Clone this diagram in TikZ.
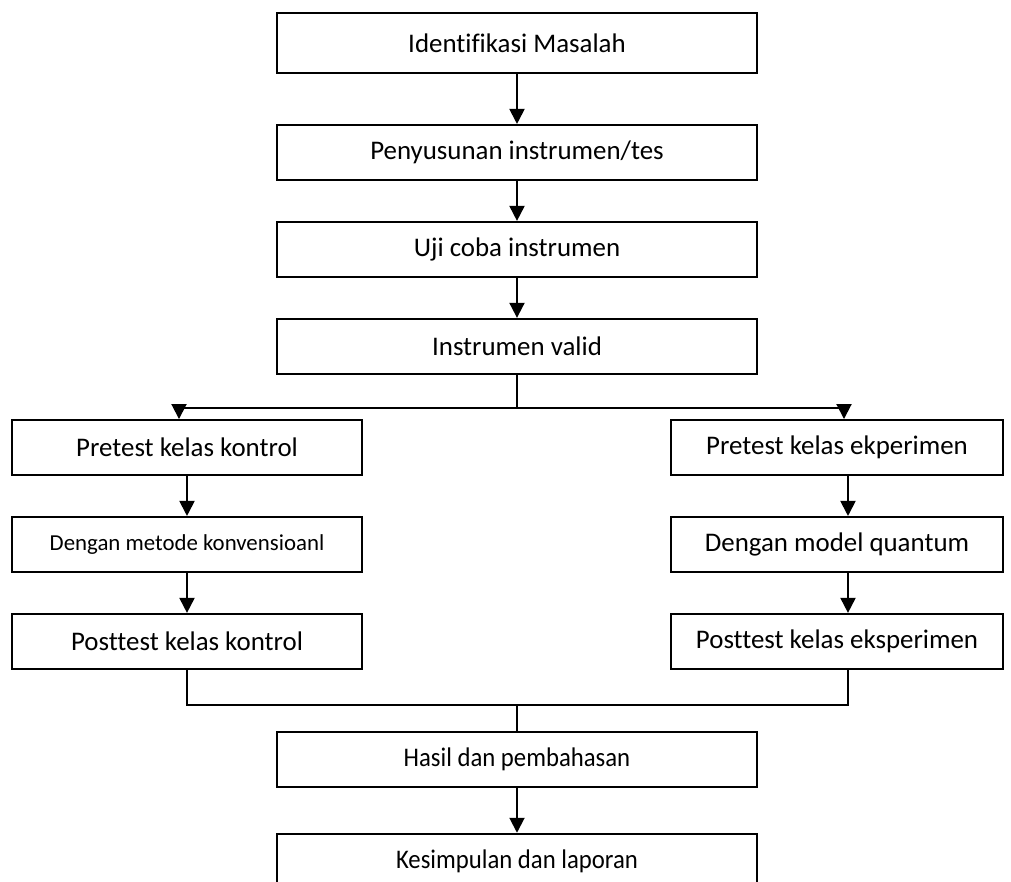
\documentclass[tikz,border=0pt]{standalone}
\usepackage{fontspec}
\setmainfont{Carlito}[Ligatures=NoCommon]
\newfontfamily\narrowfont{Carlito}[Ligatures=NoCommon,FakeStretch=0.92]
\usetikzlibrary{arrows.meta,calc,positioning}
\tikzset{
  stage/.style={rectangle,draw,line width=1.1pt,minimum height=1.1cm,inner sep=2pt,font=\fontsize{15.3}{18}\selectfont},
  mainstage/.style={stage,minimum width=9.6cm},
  kstage/.style={stage,minimum width=7.0cm},
  estage/.style={stage,minimum width=6.64cm},
  edge/.style={-{Triangle[length=0.3cm,width=0.3cm]},line width=1.1pt},
  uedge/.style={line width=1.0pt}
}

\begin{document}
\begin{tikzpicture}[node distance=0.8cm]
\useasboundingbox (0,0) rectangle (20.22,-17.64);
% alur utama
\node[mainstage,minimum height=1.2cm] (IM) at (10.34,-0.86) {Identifikasi Masalah};
\node[mainstage,below=1.0cm of IM] (PI) {Penyusunan instrumen/tes};
\node[mainstage,below=of PI] (UC) {Uji coba instrumen};
\node[mainstage,below=of UC] (IV) {Instrumen valid};
\coordinate[below=0.66cm of IV] (split);

% kelas kontrol
\node[kstage] (PK) at (3.74,-8.95) {Pretest kelas kontrol};
\node[kstage,below=of PK,font=\fontsize{13}{16}\selectfont] (MK) {Dengan metode konvensioanl};
\node[kstage,below=of MK] (KK) {Posttest kelas kontrol};

% kelas eksperimen
\node[estage] (PE) at (16.74,-8.95) {Pretest kelas ekperimen};
\node[estage,below=of PE] (ME) {Dengan model quantum};
\node[estage,below=of ME] (KE) {Posttest kelas eksperimen};

\coordinate[below=0.7cm of KK] (jl);
\coordinate (join) at (IV |- jl);
\node[mainstage,below=0.52cm of join,font=\narrowfont\fontsize{15.3}{18}\selectfont] (HP) {Hasil dan pembahasan};
\node[mainstage,below=0.9cm of HP,font=\narrowfont\fontsize{15.3}{18}\selectfont] (KS) {Kesimpulan dan laporan};

\draw[edge] (IM) -- (PI);
\draw[edge] (PI) -- (UC);
\draw[edge] (UC) -- (IV);
\draw[uedge] (IV) -- (split);
\draw[edge] (split) -| ($(PK.north)+(-0.16,0)$);
\draw[edge] (split) -| ($(PE.north)+(0.14,0)$);

\draw[edge] (PK) -- (MK);
\draw[edge] (MK) -- (KK);
\draw[edge] ($(PE.south)+(0.22,0)$) -- ($(ME.north)+(0.22,0)$);
\draw[edge] ($(ME.south)+(0.22,0)$) -- ($(KE.north)+(0.22,0)$);

\draw[uedge] (KK) |- (join) -| ($(KE.south)+(0.22,0)$);
\draw[uedge] (join) -- (HP);
\draw[edge] (HP) -- (KS);
\end{tikzpicture}
\end{document}
